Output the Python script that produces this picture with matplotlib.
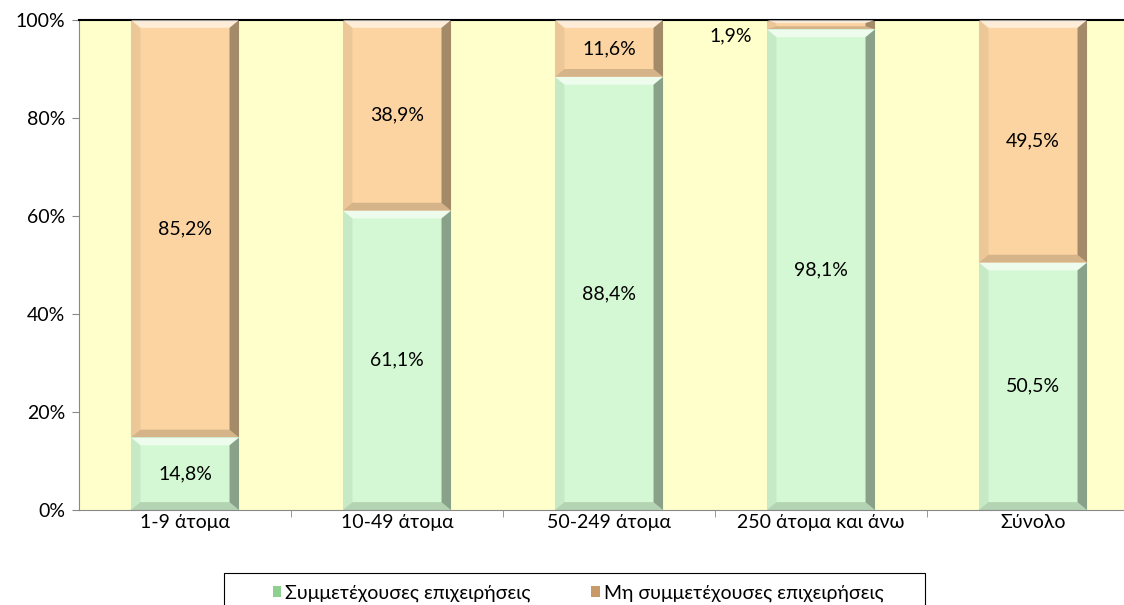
import matplotlib.pyplot as plt
from matplotlib.patches import Polygon, Rectangle
import numpy as np

categories = ["1-9 άτομα", "10-49 άτομα", "50-249 άτομα", "250 άτομα και άνω", "Σύνολο"]
participating = [14.8, 61.1, 88.4, 98.1, 50.5]
not_participating = [85.2, 38.9, 11.6, 1.9, 49.5]
series_names = ["Συμμετέχουσες επιχειρήσεις", "Μη συμμετέχουσες επιχειρήσεις"]

GREEN = "#d3f8d3"
ORANGE = "#fbd4a2"
BG = "#ffffcc"
BAR_W = 0.51

plt.rcParams["font.family"] = ["Lato", "DejaVu Sans"]
plt.rcParams["font.size"] = 14

fig = plt.figure(figsize=(11.24, 6.05), dpi=100)
ax = fig.add_axes([79 / 1124, 95 / 605, 1060 / 1124, 490 / 605])
ax.set_facecolor(BG)

x = np.arange(len(categories))


def bevel(ax, xc, y0, y1):
    # fake the Excel bevel: light top strip, darker right edge, soft bottom
    bx, by = 0.045, 1.6
    xl, xr = xc - BAR_W / 2, xc + BAR_W / 2
    by = min(by, (y1 - y0) / 3)
    top = Polygon([(xl, y1), (xr, y1), (xr - bx, y1 - by), (xl + bx, y1 - by)],
                  closed=True, facecolor="white", alpha=0.6, lw=0, zorder=3)
    right = Polygon([(xr, y1), (xr, y0), (xr - bx, y0 + by), (xr - bx, y1 - by)],
                    closed=True, facecolor="black", alpha=0.35, lw=0, zorder=3)
    left = Polygon([(xl, y1), (xl, y0), (xl + bx, y0 + by), (xl + bx, y1 - by)],
                   closed=True, facecolor="black", alpha=0.06, lw=0, zorder=3)
    bottom = Polygon([(xl, y0), (xr, y0), (xr - bx, y0 + by), (xl + bx, y0 + by)],
                     closed=True, facecolor="black", alpha=0.15, lw=0, zorder=3)
    for p in (top, right, left, bottom):
        ax.add_patch(p)


b1 = ax.bar(x, participating, BAR_W, color=GREEN, zorder=2, label=series_names[0])
b2 = ax.bar(x, not_participating, BAR_W, bottom=participating, color=ORANGE,
            zorder=2, label=series_names[1])

for i in range(len(categories)):
    bevel(ax, x[i], 0, participating[i])
    bevel(ax, x[i], participating[i], 100)

for i, v in enumerate(participating):
    ax.text(x[i], v / 2, f"{v:.1f}%".replace(".", ","), ha="center", va="center", zorder=4)
for i, v in enumerate(not_participating):
    label = f"{v:.1f}%".replace(".", ",")
    if v < 5:
        ax.text(x[i] - BAR_W / 2 - 0.07, 96.8, label, ha="right", va="center", zorder=4)
    else:
        ax.text(x[i], participating[i] + v / 2, label, ha="center", va="center", zorder=4)

ax.set_xlim(-0.5, len(categories) - 0.5)
ax.set_ylim(0, 100)
ax.set_yticks(range(0, 101, 20))
ax.set_yticklabels([f"{t}%" for t in range(0, 101, 20)])
ax.set_xticks(x)
ax.set_xticklabels(categories)
ax.tick_params(axis="x", length=0, pad=3)
ax.tick_params(axis="y", length=5, color="#888888", pad=5)
ax.set_xticks(np.arange(0.5, len(categories) - 0.5), minor=True)
ax.tick_params(axis="x", which="minor", length=5, color="#888888")

for side in ("left", "bottom"):
    ax.spines[side].set_color("#888888")
ax.spines["top"].set_color("black")
ax.spines["top"].set_linewidth(1.5)
ax.spines["right"].set_visible(False)

# legend box runs off the bottom edge of the picture in the original
fig.patches.append(Rectangle((224 / 1124, -0.05), 701 / 1124, 0.05 + 32 / 605,
                             transform=fig.transFigure, fill=False,
                             edgecolor="black", linewidth=0.8))
leg = fig.legend(handles=[b1, b2], labels=series_names, ncol=2,
                 loc="center", bbox_to_anchor=(578 / 1124, 12 / 605),
                 frameon=False, handlelength=0.45, handleheight=0.5,
                 handletextpad=0.2, columnspacing=3.1, borderaxespad=0,
                 borderpad=0, fontsize=14)
for h, c in zip(leg.legend_handles, ["#8fcf8f", "#c89a6a"]):
    h.set_facecolor(c)

fig.savefig("out.png", dpi=100)
